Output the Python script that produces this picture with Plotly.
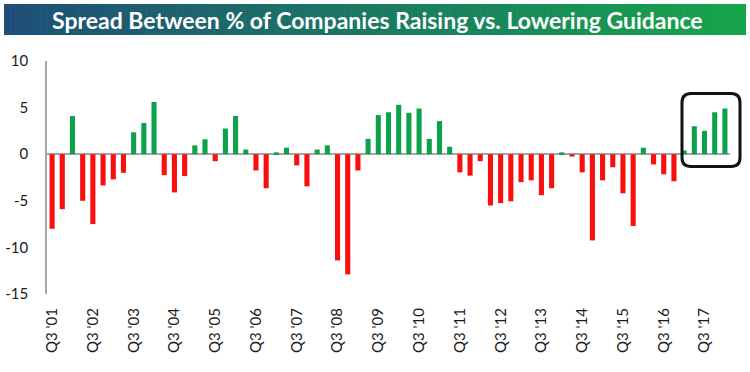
import plotly.graph_objects as go

# ---- data ----
years = list(range(2001, 2019))
categories = []
for y in years:
    for q in (1, 2, 3, 4):
        if (y == 2001 and q < 3) or (y == 2018 and q > 1):
            continue
        categories.append(f"Q{q} '{str(y)[2:]}")

values = [-8.0, -5.9, 4.1, -5.0, -7.5, -3.35, -2.7, -2.0, 2.35, 3.35,
          5.6, -2.25, -4.1, -2.35, 0.95, 1.6, -0.75, 2.75, 4.1, 0.5,
          -1.75, -3.65, 0.2, 0.7, -1.2, -3.45, 0.5, 0.95, -11.4, -12.9,
          -1.75, 1.65, 4.2, 4.5, 5.3, 4.45, 4.9, 1.65, 3.55, 0.8,
          -1.95, -2.3, -0.75, -5.5, -5.25, -5.05, -3.0, -2.8, -4.4, -3.65,
          0.2, -0.25, -1.95, -9.25, -2.8, -1.4, -4.2, -7.7, 0.7, -1.1,
          -2.15, -2.9, 0.4, 3.0, 2.5, 4.5, 4.9]

tick_labels = ["Q3 '01", "Q3 '02", "Q3 '03", "Q3 '04", "Q3 '05", "Q3 '06",
               "Q3 '07", "Q3 '08", "Q3 '09", "Q3 '10", "Q3 '11", "Q3 '12",
               "Q3 '13", "Q3 '14", "Q3 '15", "Q3 '16", "Q3 '17"]
y_ticks = [10, 5, 0, -5, -10, -15]

title_text = "Spread Between % of Companies Raising vs. Lowering Guidance"

GREEN = "#0ea14b"
RED = "#f7100e"
colors = [GREEN if v >= 0 else RED for v in values]

# ---- layout geometry ----
W, H = 750, 372
ML, MR, MT, MB = 47, 20, 61, 78
PW = W - ML - MR
PH = H - MT - MB


def px_x(x):
    return (x - ML) / PW


def px_y(y):
    return (H - MB - y) / PH


fig = go.Figure()
fig.add_trace(go.Bar(x=categories, y=values, marker=dict(color=colors, line=dict(width=0)),
                     width=0.5, showlegend=False, hoverinfo="skip"))

shapes = []
# gradient banner
c0 = (31, 78, 121)
c1 = (22, 165, 74)
bx0, bx1, by0, by1 = 4, 746, 4, 35
n = 120
for i in range(n):
    t = i / (n - 1)
    c = tuple(int(round(c0[k] + (c1[k] - c0[k]) * t)) for k in range(3))
    xa = bx0 + (bx1 - bx0) * i / n
    xb = bx0 + (bx1 - bx0) * (i + 1) / n + 0.6
    shapes.append(dict(type="rect", xref="paper", yref="paper",
                       x0=px_x(xa), x1=px_x(min(xb, bx1)), y0=px_y(by1), y1=px_y(by0),
                       fillcolor=f"rgb{c}", line=dict(width=0), layer="above"))

# rounded highlight box
x0p, x1p, y0p, y1p = 682, 740, 93.5, 166.5
r = 9
rx, ry = r / PW, r / PH
X0, X1 = px_x(x0p), px_x(x1p)
Yt, Yb = px_y(y0p), px_y(y1p)
path = (f"M {X0+rx},{Yt} L {X1-rx},{Yt} Q {X1},{Yt} {X1},{Yt-ry} "
        f"L {X1},{Yb+ry} Q {X1},{Yb} {X1-rx},{Yb} "
        f"L {X0+rx},{Yb} Q {X0},{Yb} {X0},{Yb+ry} "
        f"L {X0},{Yt-ry} Q {X0},{Yt} {X0+rx},{Yt} Z")
shapes.append(dict(type="path", xref="paper", yref="paper", path=path,
                   line=dict(color="#111111", width=3), layer="above"))

fig.update_layout(
    width=W, height=H,
    margin=dict(l=ML, r=MR, t=MT, b=MB, pad=0, autoexpand=False),
    plot_bgcolor="white", paper_bgcolor="white",
    bargap=0.5,
    shapes=shapes,
    annotations=[dict(text=f"<b>{title_text}</b>", xref="paper", yref="paper",
                      x=px_x(377), y=px_y(19.5), xanchor="center", yanchor="middle",
                      showarrow=False, font=dict(family="Lato", size=23, color="white"))],
    font=dict(family="Lato", size=15, color="#1a1a1a"),
)

fig.update_xaxes(
    type="category", range=[-0.5, len(values) - 0.5], automargin=False,
    tickmode="array", tickvals=[c for c in categories if c in tick_labels],
    ticktext=tick_labels, tickangle=-90, showgrid=False, showline=False,
    ticks="", ticklabelstandoff=10, tickfont=dict(family="Lato", size=15, color="#1a1a1a"),
)
fig.update_yaxes(
    range=[-15, 10], automargin=False, tickmode="array", tickvals=y_ticks,
    ticktext=[str(v) for v in y_ticks],
    showgrid=False, showline=True, linecolor="#a6a6a6", linewidth=1.5,
    zeroline=True, zerolinecolor="#a6a6a6", zerolinewidth=1.5,
    ticks="", ticklabelstandoff=14, tickfont=dict(family="Lato", size=15, color="#1a1a1a"),
)

fig.write_html("out.html", config={"displayModeBar": False},
               post_script="document.body.style.margin='0';")
